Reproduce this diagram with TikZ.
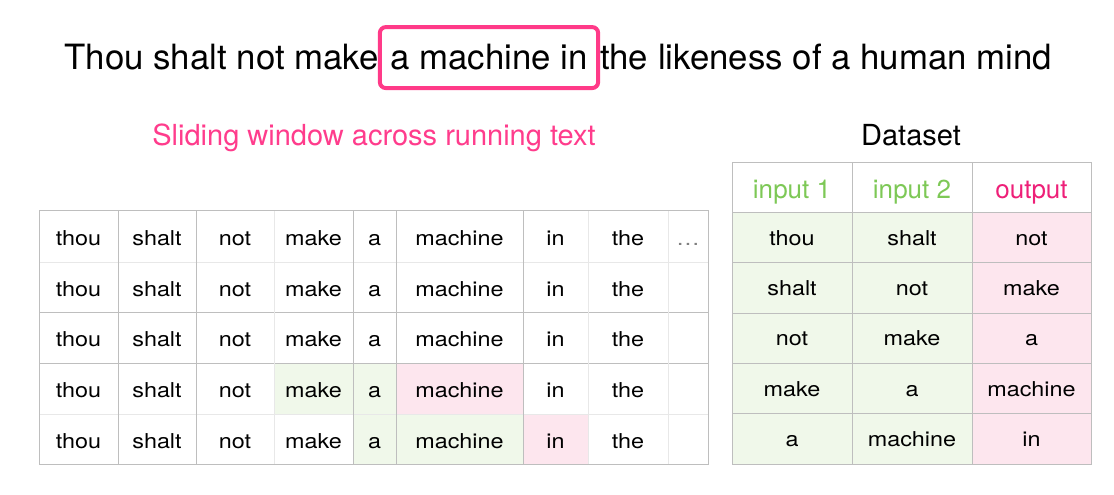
\documentclass[tikz,border=0pt]{standalone}
\usepackage{fontspec}
\setmainfont{TeX Gyre Heros}
\newfontfamily\cellfont[FakeStretch=1.14]{TeX Gyre Heros}
\definecolor{winpink}{HTML}{FF3A88}
\definecolor{slidepink}{HTML}{FF3C8C}
\definecolor{outpink}{HTML}{EE1F78}
\definecolor{ingreen}{HTML}{7DC856}
\definecolor{G}{HTML}{F0F8EA}
\definecolor{P}{HTML}{FDE6EE}
\definecolor{rule}{HTML}{BEBEBE}
\definecolor{ruleL}{HTML}{E8E8E8}
\usetikzlibrary{positioning}
\tikzstyle{base}=[x=1pt, y=-1pt, inner sep=0pt, outer sep=0pt]
\tikzstyle{title}=[anchor=base, font=\fontsize{34.8}{40}\selectfont]
\tikzstyle{sub}=[anchor=base, font=\fontsize{29}{34}\selectfont]
\tikzstyle{head}=[anchor=base, font=\fontsize{26}{30}\selectfont]
\tikzstyle{word}=[anchor=base, font=\cellfont\fontsize{20.5}{24}\selectfont]
\tikzstyle{hard}=[draw=rule, line width=1pt]
\tikzstyle{soft}=[draw=ruleL, line width=1pt]

\begin{document}
\begin{tikzpicture}[base]
    \path [use as bounding box] (0,0) rectangle (1114,495);
    % sentence with the window
    \node [title, draw=winpink, line width=4pt, rounded corners=6pt,
           inner xsep=10.5pt, minimum height=61pt] (win) at (489,70) {a machine in};
    \node [title, base left=1pt of win] (pre) {Thou shalt not make};
    \node [title, base right=2pt of win] (post) {the likeness of a human mind};
    \node [sub, text=slidepink] (slide) at (374,145) {Sliding window across running text};
    \node [sub] (dataset) at (911,145) {Dataset};

    % running text
    \fill [G] (274,363) rectangle (396,414);
    \fill [P] (396,363) rectangle (523,414);
    \fill [G] (353,414) rectangle (523,464);
    \fill [P] (523,414) rectangle (588,464);
    \foreach \y in {262,414} \draw [soft] (39,\y) -- (708,\y);
    \foreach \y in {312,363} \draw [hard] (39,\y) -- (708,\y);
    \foreach \x in {274,588,668} \draw [soft] (\x,210) -- (\x,464);
    \foreach \x in {118,196,353,396,523} \draw [hard] (\x,210) -- (\x,464);
    \draw [hard] (39,210) rectangle (708,464);
    \foreach \y [count=\r] in {245,296,346.5,397.5,448}
        \foreach \w/\x [count=\c] in {thou/78.5,shalt/157,not/235,make/313.5,a/374.5,machine/459.5,in/555.5,the/628}
            \node [word] (w-\r-\c) at (\x,\y) {\w};
    \node [word, text=gray] (w-1-9) at (688,245) {\ldots};

    % dataset
    \fill [G] (732,212) rectangle (972,464);
    \fill [P] (972,212) rectangle (1091,464);
    \foreach \y in {212,262,313,363,413} \draw [hard] (732,\y) -- (1091,\y);
    \foreach \x in {852,972} \draw [hard] (\x,162) -- (\x,464);
    \draw [hard] (732,162) rectangle (1091,464);
    \node [head, text=ingreen] (h-1) at (792,198) {input 1};
    \node [head, text=ingreen] (h-2) at (912,198) {input 2};
    \node [head, text=outpink] (h-3) at (1031.5,198) {output};
    \foreach \a/\b/\o [count=\r] in {thou/shalt/not,shalt/not/make,not/make/a,make/a/machine,a/machine/in} {
        \node [word] (d-\r-1) at (792,245+50.4*\r-50.4) {\a};
        \node [word] (d-\r-2) at (912,245+50.4*\r-50.4) {\b};
        \node [word] (d-\r-3) at (1031.5,245+50.4*\r-50.4) {\o};
    }
\end{tikzpicture}
\end{document}
